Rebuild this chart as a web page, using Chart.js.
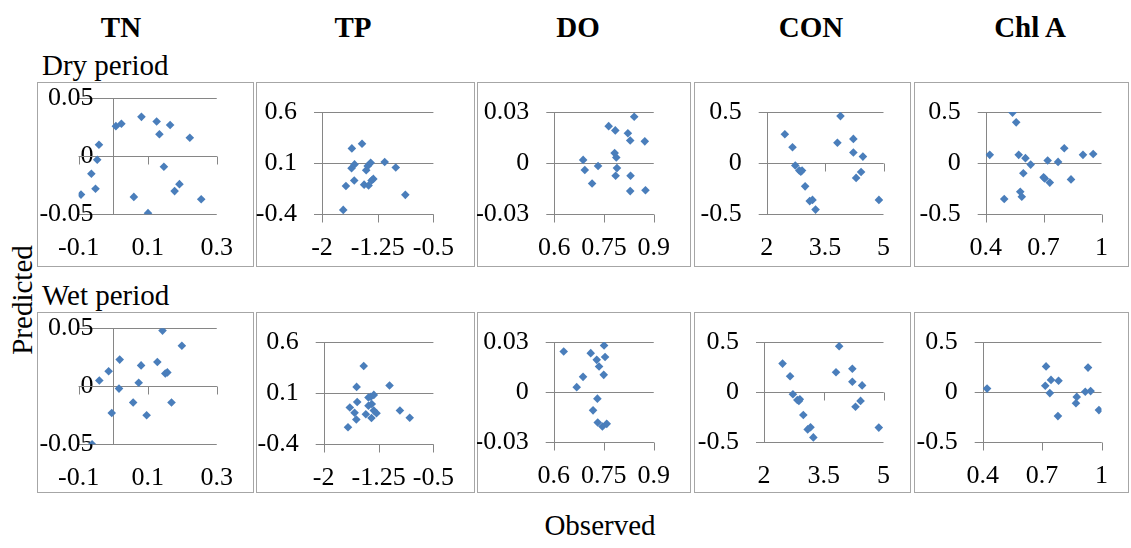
<!DOCTYPE html>
<html><head><meta charset="utf-8">
<script src="https://cdn.jsdelivr.net/npm/chart.js@4.4.1/dist/chart.umd.min.js"></script>
<style>
html,body{margin:0;padding:0;background:#fff;}
body{width:1131px;height:548px;position:relative;overflow:hidden;font-family:'Liberation Serif','Times New Roman',serif;}
.box{position:absolute;border:1px solid #a6a6a6;box-sizing:border-box;}
canvas{position:absolute;}
.t{position:absolute;white-space:nowrap;color:#000;line-height:1;}
.c{transform:translate(-50%,-50%);}
.title{font-weight:bold;font-size:29px;}
.big{font-size:29px;}
</style></head><body>
<div class="t c title" style="left:121px;top:27px;">TN</div>
<div class="t c title" style="left:353px;top:27px;">TP</div>
<div class="t c title" style="left:578px;top:27px;">DO</div>
<div class="t c title" style="left:811px;top:27px;">CON</div>
<div class="t c title" style="left:1030px;top:27px;">Chl A</div>
<div class="t big" style="left:42px;top:51px;">Dry period</div>
<div class="t big" style="left:42px;top:281px;">Wet period</div>
<div class="t c big" style="left:22px;top:300px;transform:translate(-50%,-50%) rotate(-90deg);">Predicted</div>
<div class="t c big" style="left:600px;top:525px;">Observed</div>
<script>
// ---- tick labels ----
const tnXTicks = ['-0.1','0.1','0.3'];
const tnYTicks = ['-0.05','0','0.05'];
const tpXTicks = ['-2','-1.25','-0.5'];
const tpYTicks = ['-0.4','0.1','0.6'];
const doXTicks = ['0.6','0.75','0.9'];
const doYTicks = ['-0.03','0','0.03'];
const conXTicks = ['2','3.5','5'];
const conYTicks = ['-0.5','0','0.5'];
const chlXTicks = ['0.4','0.7','1'];
const chlYTicks = ['-0.5','0','0.5'];

// ---- Dry period (observed X, predicted Y) ----
const tnDryObs  = [-0.093,-0.063,-0.051,-0.046,-0.041,0.008,0.024,0.060,0.082,0.101,0.126,0.134,0.147,0.165,0.178,0.192,0.222,0.255];
const tnDryPred = [-0.033,-0.015,-0.028,-0.003,0.010,0.026,0.028,-0.035,0.034,-0.049,0.030,0.019,-0.009,0.027,-0.030,-0.024,0.016,-0.037];
const tpDryObs  = [-1.714,-1.678,-1.598,-1.602,-1.562,-1.566,-1.461,-1.433,-1.405,-1.385,-1.373,-1.345,-1.333,-1.309,-1.156,-1.007,-0.878];
const tpDryPred = [-0.357,-0.124,0.244,0.051,0.088,-0.070,0.290,-0.110,0.031,0.071,-0.118,0.103,-0.069,-0.054,0.111,0.057,-0.210];
const doDryObs  = [0.687,0.692,0.714,0.732,0.764,0.784,0.782,0.787,0.789,0.785,0.822,0.829,0.830,0.829,0.841,0.873,0.875];
const doDryPred = [0.0019,-0.0040,-0.0119,-0.0017,0.0217,0.0192,0.0059,0.0033,-0.0029,-0.0074,0.0175,0.0133,-0.0074,-0.0164,0.0272,0.0128,-0.0159];
const conDryObs  = [2.466,2.663,2.734,2.837,2.876,2.908,2.987,3.105,3.176,3.255,3.816,3.895,4.226,4.226,4.297,4.424,4.471,4.882];
const conDryPred = [0.283,0.156,-0.023,-0.072,-0.083,-0.072,-0.227,-0.371,-0.359,-0.454,0.199,0.460,0.237,0.104,-0.144,-0.086,0.064,-0.359];
const chlDryObs  = [0.421,0.496,0.539,0.558,0.571,0.579,0.587,0.595,0.606,0.633,0.700,0.706,0.721,0.732,0.775,0.807,0.842,0.904,0.957];
const chlDryPred = [0.081,-0.351,0.494,0.399,0.081,-0.279,-0.328,-0.098,0.049,-0.014,-0.139,-0.150,0.026,-0.190,0.012,0.145,-0.159,0.081,0.090];

// ---- Wet period ----
const tnWetObs  = [-0.061,-0.040,-0.013,-0.004,0.017,0.019,0.058,0.074,0.081,0.097,0.128,0.143,0.151,0.157,0.169,0.199];
const tnWetPred = [-0.050,0.005,0.013,-0.023,-0.002,0.023,-0.014,0.003,0.018,-0.025,0.021,0.048,0.011,0.012,-0.014,0.035];
const tpWetObs  = [-1.668,-1.643,-1.578,-1.554,-1.550,-1.542,-1.453,-1.424,-1.388,-1.388,-1.355,-1.347,-1.343,-1.315,-1.315,-1.278,-1.100,-0.958,-0.824];
const tpWetPred = [-0.234,-0.040,-0.091,-0.157,0.161,0.014,0.366,-0.106,0.057,-0.023,0.065,-0.143,-0.006,0.083,-0.069,-0.097,0.175,-0.069,-0.140];
const doWetObs  = [0.630,0.669,0.688,0.711,0.718,0.729,0.731,0.732,0.736,0.746,0.750,0.751,0.754,0.759];
const doWetPred = [0.0243,0.0029,0.0091,0.0233,-0.0110,0.0193,-0.0040,-0.0183,0.0153,-0.0207,0.0103,0.0279,0.0210,-0.0191];
const conWetObs  = [2.466,2.655,2.726,2.837,2.876,2.900,2.987,3.097,3.168,3.239,3.808,3.887,4.218,4.218,4.297,4.424,4.463,4.882];
const conWetPred = [0.284,0.158,-0.023,-0.080,-0.089,-0.072,-0.230,-0.374,-0.353,-0.454,0.198,0.457,0.233,0.103,-0.147,-0.089,0.066,-0.356];
const chlWetObs  = [0.422,0.716,0.720,0.739,0.745,0.783,0.780,0.871,0.875,0.918,0.932,0.945,0.987];
const chlWetPred = [0.034,0.063,0.256,-0.011,0.121,0.112,-0.241,-0.112,-0.049,0.003,0.244,0.009,-0.181];

// ---- layout (box & plot area in page px) ----
const panels = [
  {box:[37,82,254,267],  area:[75,98.3,231.7,214.3],    xAt:'zero',   yAt:'zero', obs:tnDryObs,  pred:tnDryPred,  xt:tnXTicks,  yt:tnYTicks},
  {box:[256,82,475,267], area:[322,98.3,446.3,214.3],   xAt:'bottom', yAt:'left', obs:tpDryObs,  pred:tpDryPred,  xt:tpXTicks,  yt:tpYTicks},
  {box:[477,82,691,267], area:[554.3,98.3,668.7,214.3], xAt:'bottom', yAt:'left', obs:doDryObs,  pred:doDryPred,  xt:doXTicks,  yt:doYTicks},
  {box:[694,82,911,267], area:[766.7,98.3,893.3,214.3], xAt:'zero',   yAt:'left', obs:conDryObs, pred:conDryPred, xt:conXTicks, yt:conYTicks},
  {box:[914,82,1129,267],area:[985.7,98.3,1111,214.3],  xAt:'bottom', yAt:'left', obs:chlDryObs, pred:chlDryPred, xt:chlXTicks, yt:chlYTicks},
  {box:[37,312,254,493], area:[75,328.3,231.7,444.3],   xAt:'zero',   yAt:'zero', obs:tnWetObs,  pred:tnWetPred,  xt:tnXTicks,  yt:tnYTicks},
  {box:[256,312,475,493],area:[323.7,328.3,447,444.3],  xAt:'bottom', yAt:'left', obs:tpWetObs,  pred:tpWetPred,  xt:tpXTicks,  yt:tpYTicks},
  {box:[477,312,691,493],area:[553.7,326,668.7,442],    xAt:'bottom', yAt:'left', obs:doWetObs,  pred:doWetPred,  xt:doXTicks,  yt:doYTicks},
  {box:[694,312,911,493],area:[764,326,890.7,442],      xAt:'zero',   yAt:'left', obs:conWetObs, pred:conWetPred, xt:conXTicks, yt:conYTicks},
  {box:[914,312,1129,493],area:[982.7,326,1109.3,442],  xAt:'bottom', yAt:'left', obs:chlWetObs, pred:chlWetPred, xt:chlXTicks, yt:chlYTicks}
];

const GRID = '#868686';
const FAMILY = "'Liberation Serif','Times New Roman',serif";
const tickFont = {family:FAMILY, size:26, lineHeight:1};

function axesPlugin(p) {
  return {
    id:'excelAxes',
    beforeDatasetsDraw(chart) {
      const {ctx, chartArea:a} = chart;
      const xs = chart.scales.x, ys = chart.scales.y;
      const yPix = p.xAt === 'zero' ? Math.round(ys.getPixelForValue(0)) + 0.5 : Math.round(a.bottom) + 0.5;
      const xPix = p.yAt === 'zero' ? Math.round(xs.getPixelForValue(0)) + 0.5 : Math.round(a.left) + 0.5;
      ctx.save();
      ctx.strokeStyle = GRID; ctx.lineWidth = 1;
      ctx.beginPath();
      ctx.moveTo(a.left, yPix); ctx.lineTo(a.right, yPix);
      p.xt.forEach(t => {
        const px = Math.round(xs.getPixelForValue(+t)) + 0.5;
        ctx.moveTo(px, yPix); ctx.lineTo(px, yPix + 8);
      });
      ctx.moveTo(xPix, a.top); ctx.lineTo(xPix, a.bottom);
      ctx.stroke();
      ctx.restore();
    }
  };
}

const meas = document.createElement('canvas').getContext('2d');
meas.font = '26px ' + FAMILY;

panels.forEach(p => {
  const [bl,bt,br,bb] = p.box;
  const [al,at,ar,ab] = p.area;
  const box = document.createElement('div');
  box.className = 'box';
  Object.assign(box.style, {left:bl+'px', top:bt+'px', width:(br-bl)+'px', height:(bb-bt)+'px'});
  document.body.appendChild(box);
  const c = document.createElement('canvas');
  c.width = br-bl; c.height = bb-bt;
  Object.assign(c.style, {left:bl+'px', top:bt+'px', width:(br-bl)+'px', height:(bb-bt)+'px'});
  document.body.appendChild(c);
  const zeroY = p.yAt === 'zero';
  // for the TN panels the labels overlap the plot edge by 15px (mirrored, right-aligned)
  const widest = Math.max(...p.yt.map(s => meas.measureText(s).width));
  const yTicks = zeroY
    ? {callback:(v,i) => p.yt[i], font:tickFont, color:'#000', mirror:true, crossAlign:'far', padding:15 - widest, autoSkip:false}
    : {callback:(v,i) => p.yt[i], font:tickFont, color:'#000', padding:17, autoSkip:false};
  new Chart(c, {
    type:'scatter',
    data:{datasets:[{
      data:p.obs.map((x,i) => ({x:x, y:p.pred[i]})),
      pointStyle:'rectRot', pointRadius:4.3, pointHoverRadius:4.3,
      backgroundColor:'#4a7ebb', borderColor:'#4a7ebb', borderWidth:0
    }]},
    options:{
      responsive:false, animation:false, devicePixelRatio:1,
      layout:{padding:{left:0, top:at-bt, right:br-ar, bottom:0}},
      plugins:{legend:{display:false}, tooltip:{enabled:false}},
      scales:{
        x:{
          type:'linear', min:+p.xt[0], max:+p.xt[p.xt.length-1],
          afterBuildTicks:s => { s.ticks = p.xt.map(v => ({value:+v})); },
          afterFit:s => { s.height = bb-ab; },
          grid:{display:false, drawTicks:false},
          border:{display:false},
          ticks:{callback:(v,i) => p.xt[i], font:tickFont, color:'#000', padding:21, maxRotation:0, autoSkip:false}
        },
        y:{
          type:'linear', min:+p.yt[0], max:+p.yt[p.yt.length-1],
          afterBuildTicks:s => { s.ticks = p.yt.map(v => ({value:+v})); },
          afterFit:s => { s.width = al-bl; },
          grid:{color:GRID, lineWidth:1, drawTicks:!zeroY, tickLength:8, tickColor:GRID},
          border:{display:false},
          ticks:yTicks
        }
      }
    },
    plugins:[axesPlugin(p)]
  });
});
</script>
</body></html>
